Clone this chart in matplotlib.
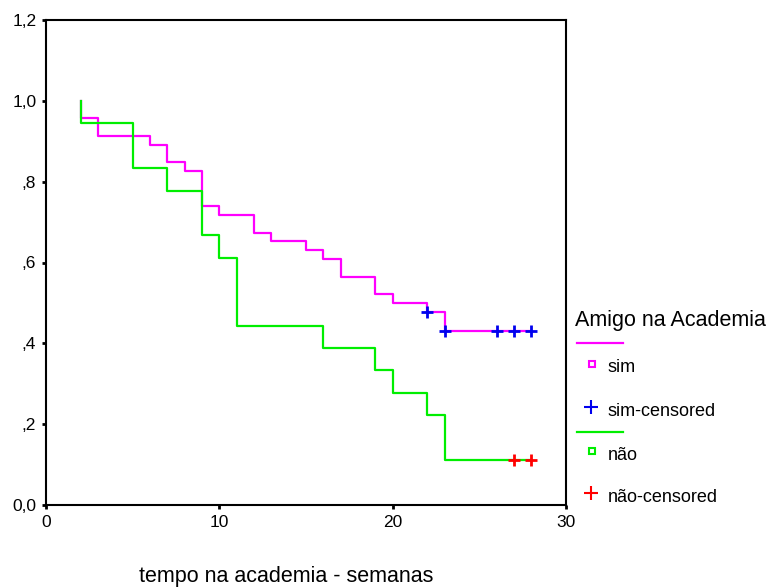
import matplotlib
matplotlib.use("Agg")
import matplotlib.pyplot as plt
from matplotlib.lines import Line2D

plt.rcParams['font.family'] = ['Liberation Sans', 'DejaVu Sans']

# Kaplan-Meier: grupo "sim" (com amigo na academia)
sim_tempo = [2, 2, 3, 6, 7, 8, 9, 10, 12, 13, 15, 16, 17, 19, 20, 22, 23, 28]
sim_surv = [1.0, 0.957, 0.913, 0.891, 0.848, 0.826, 0.739, 0.717, 0.674,
            0.652, 0.630, 0.609, 0.565, 0.522, 0.500, 0.478, 0.430, 0.430]
sim_cens_tempo = [22, 23, 26, 27, 28]
sim_cens_surv = [0.478, 0.430, 0.430, 0.430, 0.430]

# grupo "não"
nao_tempo = [2, 2, 5, 7, 9, 10, 11, 16, 19, 20, 22, 23, 28]
nao_surv = [1.0, 0.944, 0.833, 0.778, 0.667, 0.611, 0.444, 0.389, 0.333,
            0.278, 0.222, 0.111, 0.111]
nao_cens_tempo = [27, 28]
nao_cens_surv = [0.111, 0.111]

yticks = [0.0, 0.2, 0.4, 0.6, 0.8, 1.0, 1.2]
ytick_labels = ['0,0', ',2', ',4', ',6', ',8', '1,0', '1,2']
xticks = [0, 10, 20, 30]

cor_sim = '#ff00ff'
cor_nao = '#00ee00'

fig = plt.figure(figsize=(7.72, 5.88), dpi=100)
ax = fig.add_axes([46 / 772, 83 / 588, 520 / 772, 485 / 588])

ax.step(sim_tempo, sim_surv, where='post', color=cor_sim, lw=1.6)
ax.step(nao_tempo, nao_surv, where='post', color=cor_nao, lw=1.6)
ax.plot(sim_cens_tempo, sim_cens_surv, ls='none', marker='+', ms=9,
        mew=2, color='#0000ee')
ax.plot(nao_cens_tempo, nao_cens_surv, ls='none', marker='+', ms=9,
        mew=2, color='#ff0000')

ax.set_xlim(0, 30)
ax.set_ylim(0, 1.2)
ax.set_xticks(xticks)
ax.set_yticks(yticks)
ax.set_yticklabels(ytick_labels)
ax.tick_params(direction='out', length=3, width=2, labelsize=12.5, pad=4)
for s in ax.spines.values():
    s.set_linewidth(1.5)
fig.text(286 / 772, 1 / 588, 'tempo na academia - semanas', fontsize=15.5,
         ha='center', va='bottom')

# legenda desenhada à direita do gráfico
fig.text(575 / 772, 1 - 320 / 588, 'Amigo na Academia', fontsize=15.5,
         va='center', ha='left')
itens = [
    ('line', cor_sim, 343, ''),
    ('s', cor_sim, 364, 'sim'),
    ('+', '#0000ee', 407, 'sim-censored'),
    ('line', cor_nao, 432, ''),
    ('s', cor_nao, 451, 'não'),
    ('+', '#ff0000', 493, 'não-censored'),
]
for tipo, cor, ypx, texto in itens:
    yf = 1 - ypx / 588
    if tipo == 'line':
        fig.add_artist(Line2D([577 / 772, 623 / 772], [yf, yf], color=cor,
                              lw=1.6, transform=fig.transFigure))
    elif tipo == 's':
        fig.add_artist(Line2D([592 / 772], [yf], marker='s', ms=5, mfc='none',
                              mec=cor, mew=1.5, transform=fig.transFigure))
    else:
        fig.add_artist(Line2D([591 / 772], [yf], marker='+', ms=10, mew=1.5,
                              color=cor, transform=fig.transFigure))
    if texto:
        fig.text(608 / 772, 1 - (ypx + 4) / 588, texto, fontsize=13,
                 va='center', ha='left')

fig.savefig('out.png', dpi=100)
